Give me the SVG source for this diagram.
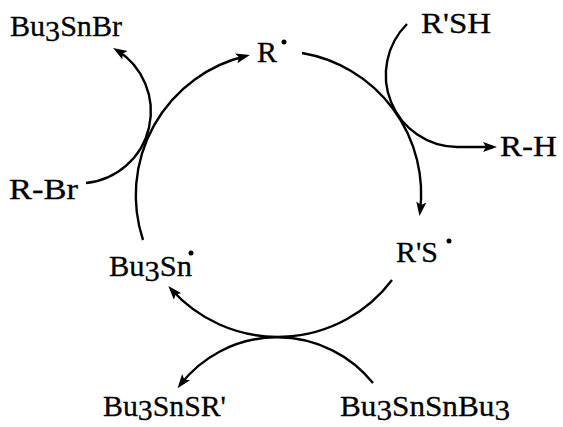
<svg xmlns="http://www.w3.org/2000/svg" width="563" height="427" viewBox="0 0 563 427">
<defs>
<style>
.lbl{font-family:"Liberation Serif","Times New Roman",serif;font-size:30px;fill:#000;stroke:#000;stroke-width:0.3}
.arc{fill:none;stroke:#000;stroke-width:2.4}
.dot{fill:#000}
</style>
<marker id="ah" markerUnits="userSpaceOnUse" markerWidth="15" markerHeight="11" refX="10" refY="5" orient="auto">
<path d="M0,0 L14,5 L0,10 L3,5 z" fill="#000"/>
</marker>
</defs>
<rect width="563" height="427" fill="#fff"/>
<g id="connectors">
<path class="arc" d="M143,240 A143,143 0 0 1 246,56" marker-end="url(#ah)"/>
<path class="arc" d="M302,53 A143,143 0 0 1 420,212" marker-end="url(#ah)"/>
<path class="arc" d="M392,280 A143,143 0 0 1 171,289" marker-end="url(#ah)"/>
<path class="arc" d="M86,183 A72,72 0 0 0 116.5,50" marker-end="url(#ah)"/>
<path class="arc" d="M407,24 A72,72 0 0 0 457,147 L493,147" marker-end="url(#ah)"/>
<path class="arc" d="M373,383 A123,123 0 0 0 180,385" marker-end="url(#ah)"/>
</g>
<g id="n-bu3snbr"><text class="lbl" x="10" y="36" textLength="112" lengthAdjust="spacingAndGlyphs">Bu<tspan dy="5">3</tspan><tspan dy="-5">SnBr</tspan></text></g>
<g id="n-r"><text class="lbl" x="257" y="62">R</text><circle class="dot" cx="284" cy="42" r="2.5"/></g>
<g id="n-rsh"><text class="lbl" x="421" y="33" textLength="70" lengthAdjust="spacingAndGlyphs">R'SH</text></g>
<g id="n-rh"><text class="lbl" x="500" y="156" textLength="57" lengthAdjust="spacingAndGlyphs">R-H</text></g>
<g id="n-rbr"><text class="lbl" x="9" y="199" textLength="69" lengthAdjust="spacingAndGlyphs">R-Br</text></g>
<g id="n-rs"><text class="lbl" x="396" y="262" textLength="42" lengthAdjust="spacingAndGlyphs">R'S</text><circle class="dot" cx="449" cy="241" r="2.5"/></g>
<g id="n-bu3sn"><text class="lbl" x="109" y="276" textLength="83" lengthAdjust="spacingAndGlyphs">Bu<tspan dy="5">3</tspan><tspan dy="-5">Sn</tspan></text><circle class="dot" cx="191" cy="253" r="2.5"/></g>
<g id="n-bu3snsr"><text class="lbl" x="103" y="416" textLength="123" lengthAdjust="spacingAndGlyphs">Bu<tspan dy="4">3</tspan><tspan dy="-4">SnSR'</tspan></text></g>
<g id="n-bu3snsnbu3"><text class="lbl" x="340" y="416" textLength="170" lengthAdjust="spacingAndGlyphs">Bu<tspan dy="4">3</tspan><tspan dy="-4">SnSnBu</tspan><tspan dy="4">3</tspan></text></g>
</svg>
